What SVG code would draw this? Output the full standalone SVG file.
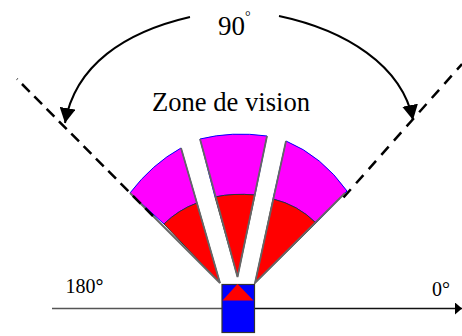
<svg xmlns="http://www.w3.org/2000/svg" width="462" height="336" viewBox="0 0 462 336">
<style>
text{font-family:"Liberation Serif","Times New Roman",serif;fill:#000}
.mag{fill:#f0f;stroke:#00f;stroke-width:1}
.red{fill:#f00;stroke:#333;stroke-width:1}
.edge{fill:none;stroke:#666;stroke-width:1.800}
.curve{fill:none;stroke:#000;stroke-width:2}
.dash{fill:none;stroke:#000;stroke-width:2.500}
.axis{fill:none;stroke-width:1.600}
</style>
<defs>
<marker id="arrow" markerUnits="userSpaceOnUse" markerWidth="16" markerHeight="16" refX="15" refY="8" orient="auto"><path d="M0 0L15 8L0 16Z" fill="#000"/></marker>
<marker id="axhead" markerUnits="userSpaceOnUse" markerWidth="8" markerHeight="14" refX="7" refY="6" orient="auto"><path d="M0 0L7 6L0 12Z" fill="#000"/></marker>
</defs>
<g id="wedge-left">
<path class="mag" d="M130 193Q152 164 181 148L197 203Q178 210 164 224Z"/>
<path class="red" d="M164 224Q178 210 197 203L220 283Z"/>
<path class="edge" d="M130 193L220 283L181 148"/>
</g>
<g id="wedge-center">
<path class="mag" d="M200 139Q232 131 267 136L255 195Q233 193 215 197Z"/>
<path class="red" d="M215 197Q233 193 255 195L237.500 277Z"/>
<path class="edge" d="M200 139L237.500 277L267 136"/>
</g>
<g id="wedge-right">
<path class="mag" d="M286 141Q322 156 347 191L316 223Q298 205 273 199Z"/>
<path class="red" d="M273 199Q298 205 316 223L255 283Z"/>
<path class="edge" d="M286 141L255 283L345 193"/>
</g>
<g id="connectors">
<path class="dash" stroke-dasharray="11 6.500" d="M153 216L17 79"/>
<path class="dash" stroke-dasharray="11 8" d="M343.500 197.500L462 64"/>
<path class="curve" d="M190 17C125 32 75 65 65 123" marker-end="url(#arrow)"/>
<path class="curve" d="M279 16C345 30 402 65 413 120" marker-end="url(#arrow)"/>
<path class="axis" stroke="#555" stroke-width="1.800" d="M52 308.500H222"/>
<path class="axis" stroke="#111" d="M254 308.500H462" marker-end="url(#axhead)"/>
</g>
<g id="device">
<rect x="222" y="284.500" width="32.500" height="48" fill="#00f" stroke="#333" stroke-width="1.200"/>
<path d="M237.500 284L253.500 300.500H222.500Z" fill="#f00"/>
</g>
<g id="labels">
<text x="218" y="35" font-size="27">90</text>
<text x="245" y="21" font-size="14">°</text>
<text x="152" y="111" font-size="26.600">Zone de vision</text>
<text x="65.500" y="293" font-size="20">180<tspan font-weight="bold">°</tspan></text>
<text x="432" y="296" font-size="20">0°</text>
</g>
</svg>
